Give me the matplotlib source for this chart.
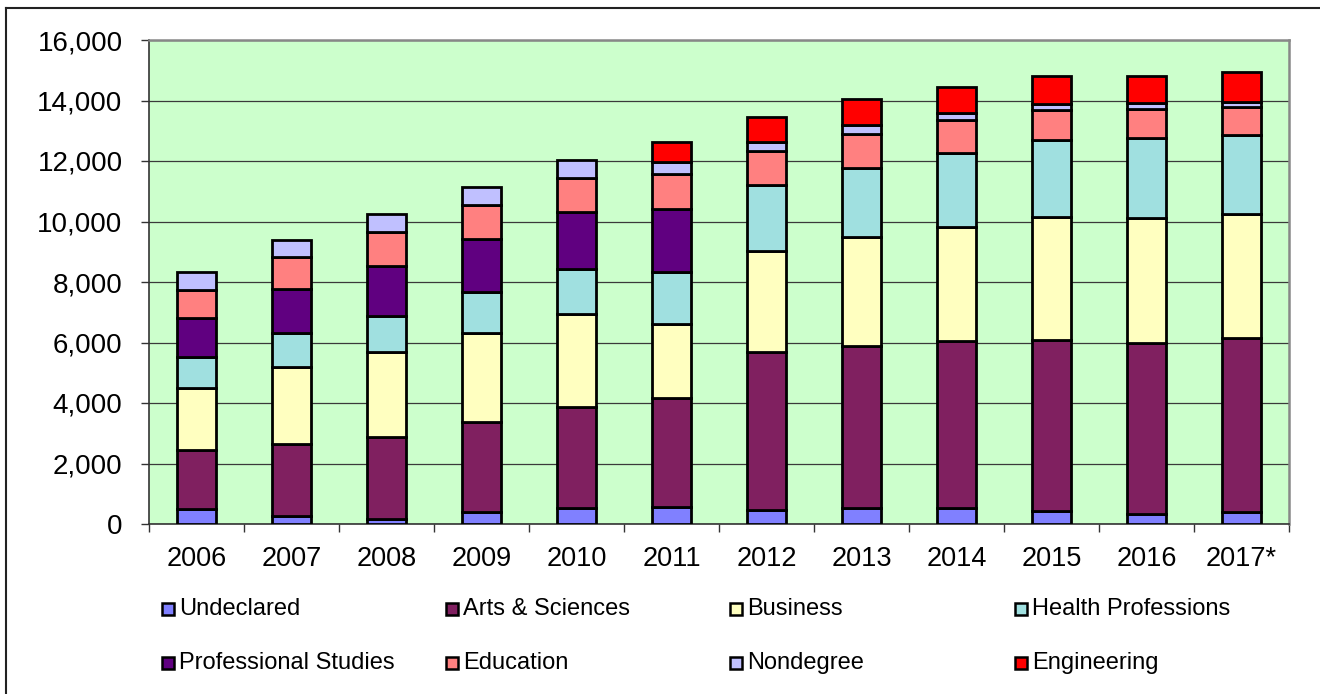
import matplotlib
matplotlib.use("Agg")
import matplotlib.pyplot as plt
from matplotlib.patches import Rectangle
from matplotlib.lines import Line2D
import numpy as np

plt.rcParams['font.family'] = ['Liberation Sans', 'DejaVu Sans']

years = ["2006", "2007", "2008", "2009", "2010", "2011", "2012", "2013",
         "2014", "2015", "2016", "2017*"]

undeclared = [480, 250, 170, 390, 520, 570, 460, 520, 520, 440, 330, 390]
arts_sciences = [1970, 2380, 2700, 2970, 3340, 3580, 5220, 5350, 5530, 5640, 5660, 5750]
business = [2060, 2550, 2820, 2970, 3070, 2460, 3360, 3610, 3780, 4080, 4110, 4100]
health = [1020, 1120, 1190, 1340, 1490, 1730, 2170, 2300, 2450, 2530, 2650, 2620]
professional = [1270, 1460, 1650, 1760, 1880, 2060, 0, 0, 0, 0, 0, 0]
education = [950, 1050, 1110, 1100, 1150, 1160, 1130, 1110, 1070, 1000, 970, 910]
nondegree = [570, 580, 620, 600, 580, 400, 280, 300, 230, 180, 190, 170]
engineering = [0, 0, 0, 0, 0, 680, 830, 860, 880, 950, 910, 1010]

series_names = ["Undeclared", "Arts & Sciences", "Business", "Health Professions",
                "Professional Studies", "Education", "Nondegree", "Engineering"]
series_values = [undeclared, arts_sciences, business, health,
                 professional, education, nondegree, engineering]
series_colors = ["#8080FF", "#802060", "#FFFFC0", "#A0E0E0",
                 "#600080", "#FF8080", "#C0C0FF", "#FF0000"]

W, H = 1320, 694
fig = plt.figure(figsize=(W / 100, H / 100), dpi=100)
ax = fig.add_axes([149 / W, 1 - 524 / H, (1289 - 149) / W, (524 - 40) / H])
ax.set_facecolor("#CCFFCC")

x = np.arange(len(years))
bottom = np.zeros(len(years))
for name, vals, col in zip(series_names, series_values, series_colors):
    v = np.array(vals, dtype=float)
    mask = v > 0
    ax.bar(x[mask], v[mask], width=0.41, bottom=bottom[mask], color=col,
           edgecolor="black", linewidth=2.0, zorder=3)
    bottom += v

ax.set_xlim(-0.5, len(years) - 0.5)
ax.set_ylim(0, 16000)
ax.set_yticks(np.arange(0, 16001, 2000))
ax.set_yticklabels([f"{int(t):,}" for t in np.arange(0, 16001, 2000)])
ax.grid(axis="y", color="#3a3a3a", linewidth=0.9, zorder=1)
ax.set_axisbelow(True)

ax.set_xticks(x)
ax.set_xticklabels(years)
ax.set_xticks(np.arange(-0.5, len(years), 1.0), minor=True)
ax.tick_params(axis="x", which="major", length=0, pad=16, labelsize=19.5)
ax.tick_params(axis="x", which="minor", length=6, width=1, color="#333333", direction="out")
ax.tick_params(axis="y", which="major", length=6, width=1, color="#333333",
               direction="out", pad=13, labelsize=20)

for s in ["left", "bottom"]:
    ax.spines[s].set_color("#333333")
    ax.spines[s].set_linewidth(1.2)
for s in ["top", "right"]:
    ax.spines[s].set_color("#888888")
    ax.spines[s].set_linewidth(1.8)

# legend, Excel-style equal columns
col_x = [162, 446, 730, 1015]
row_y = [609, 663]
msz = 12
for i, (name, col) in enumerate(zip(series_names, series_colors)):
    cx = col_x[i % 4]
    cy = row_y[i // 4]
    fig.add_artist(Rectangle((cx / W, 1 - (cy + msz / 2) / H), msz / W, msz / H,
                             transform=fig.transFigure, facecolor=col,
                             edgecolor="black", linewidth=1.8))
    fig.text((cx + msz + 5) / W, 1 - cy / H, name, fontsize=17,
             va="center", ha="left")

# outer chart border
fig.add_artist(Line2D([6.5 / W, 6.5 / W], [0, 1 - 8 / H], transform=fig.transFigure,
                      color="#222222", linewidth=1.5))
fig.add_artist(Line2D([6.5 / W, 1], [1 - 8 / H, 1 - 8 / H], transform=fig.transFigure,
                      color="#222222", linewidth=1.5))

fig.savefig("out.png", dpi=100)
